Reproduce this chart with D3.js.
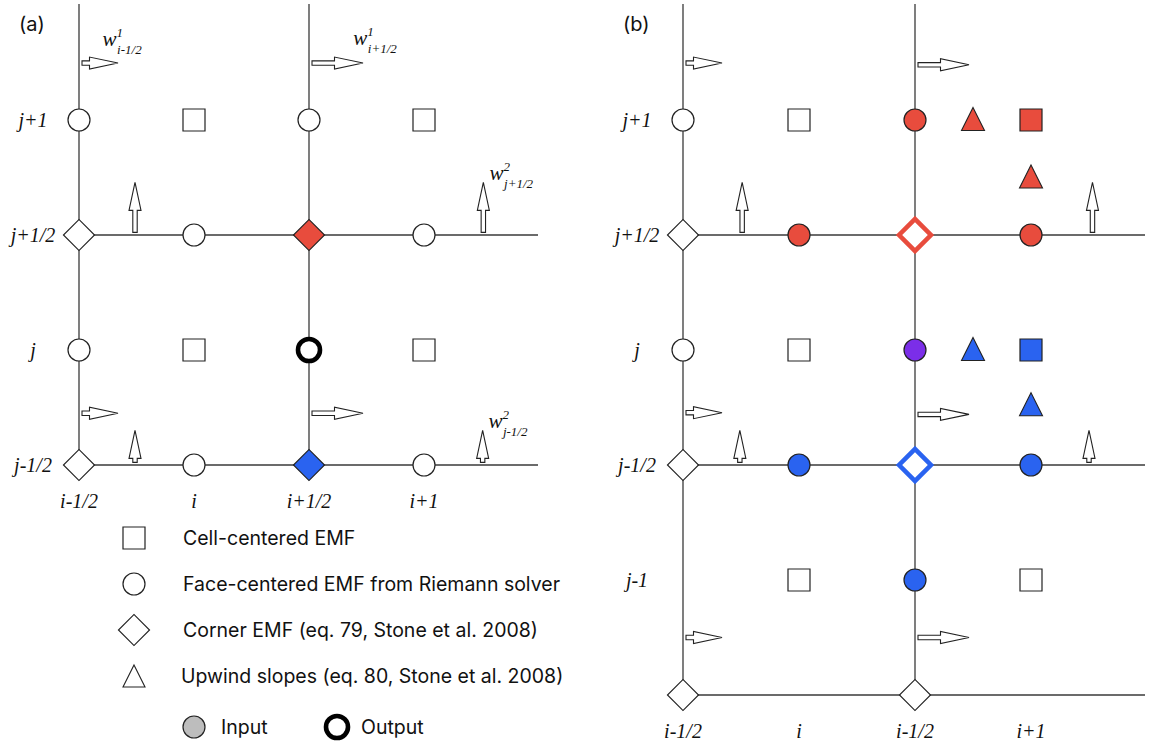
<!DOCTYPE html>
<html>
<head>
<meta charset="utf-8">
<script src="https://cdn.jsdelivr.net/npm/d3@7"></script>
<style>
  body { margin: 0; background: #fff; }
  .math { font-family: "Liberation Serif", "DejaVu Serif", serif; font-style: italic; fill: #111; }
  .sans { font-family: "Inter", "Liberation Sans", sans-serif; fill: #111; }
</style>
</head>
<body>
<svg id="fig" width="1151" height="749"></svg>
<script>
// Grid indices: columns 0..3 = i-1/2, i, i+1/2, i+1 ; rows 0..5 = j+1, j+1/2, j, j-1/2, j-1, j-3/2
const rowLabelsA = ["j+1", "j+1/2", "j", "j-1/2"];
const rowLabelsB = ["j+1", "j+1/2", "j", "j-1/2", "j-1"];
const colLabelsA = ["i-1/2", "i", "i+1/2", "i+1"];
const colLabelsB = ["i-1/2", "i", "i-1/2", "i+1"];

// Panel (a) markers: [column, row, colour]
const cellsA   = [[1, 0, "none"], [3, 0, "none"], [1, 2, "none"], [3, 2, "none"]];
const facesA   = [[0, 0, "none"], [2, 0, "none"], [1, 1, "none"], [3, 1, "none"],
                  [0, 2, "none"], [2, 2, "output"], [1, 3, "none"], [3, 3, "none"]];
const cornersA = [[0, 1, "none"], [2, 1, "red"], [0, 3, "none"], [2, 3, "blue"]];

// Panel (b) markers
const cellsB   = [[1, 0, "none"], [3, 0, "red"], [1, 2, "none"], [3, 2, "blue"], [1, 4, "none"], [3, 4, "none"]];
const facesB   = [[0, 0, "none"], [2, 0, "red"], [1, 1, "red"], [3, 1, "red"], [0, 2, "none"],
                  [2, 2, "purple"], [1, 3, "blue"], [3, 3, "blue"], [2, 4, "blue"]];
const cornersB = [[0, 1, "none"], [2, 1, "redRing"], [0, 3, "none"], [2, 3, "blueRing"], [0, 5, "none"], [2, 5, "none"]];
const slopesB  = [[2.5, 0, "red"], [3, 0.5, "red"], [2.5, 2, "blue"], [3, 2.48, "blue"]];

// Wave speeds drawn as arrows: [column, row, speed]
const speedsXA = [[0, -0.495, 0.36], [2, -0.495, 0.51], [0, 2.55, 0.36], [2, 2.55, 0.51]];
const speedsYA = [[0.487, 1, 0.50], [3.516, 1, 0.50], [0.487, 3, 0.32], [3.51, 3, 0.32]];
const speedsXB = [[0, -0.495, 0.36], [2, -0.48, 0.51], [0, 2.545, 0.36], [2, 2.56, 0.51], [0, 4.5, 0.36], [2, 4.5, 0.51]];
const speedsYB = [[0.51, 1, 0.50], [3.53, 1, 0.50], [0.49, 3, 0.32], [3.5, 3, 0.32]];

// Wave-speed labels w^sup_sub: [column, row, sup, sub]
const speedLabelsA = [[0.205, -0.643, "1", "i-1/2"], [2.385, -0.652, "1", "i+1/2"],
                      [3.57, 0.522, "2", "j+1/2"], [3.56, 2.675, "2", "j-1/2"]];

const legendItems = ["Cell-centered EMF", "Face-centered EMF from Riemann solver",
                     "Corner EMF (eq. 79, Stone et al. 2008)", "Upwind slopes (eq. 80, Stone et al. 2008)"];

const palette = {
  none: "#ffffff", red: "#e84c3d", blue: "#2a63f0", purple: "#7b2ee8",
  input: "#bdbdbd"
};
const ink = "#222";
const lineInk = "#3a3a3a";

const svg = d3.select("#fig");
const yScale = d3.scaleLinear().domain([0, 3]).range([120, 465]);
const lenScale = d3.scaleLinear().domain([0, 1]).range([0, 100]);

const sq = d3.symbol().type(d3.symbolSquare).size(484);
const circ = d3.symbol().type(d3.symbolCircle).size(Math.PI * 11 * 11);
const diam = d3.symbol().type(d3.symbolSquare).size(2 * 15.5 * 15.5);

function triPath(cx, cy, w, h) {
  return `M${cx},${cy - h / 2 - 1}L${cx + w / 2},${cy + h / 2 - 1}L${cx - w / 2},${cy + h / 2 - 1}Z`;
}

function arrowRight(x0, y0, len) {
  const head = 28.5, sh = 2.2, hh = 6;
  const s = Math.max(len - head, 2);
  return `M${x0},${y0 - sh}L${x0 + s},${y0 - sh}L${x0 + s},${y0 - hh}L${x0 + s + head},${y0}` +
         `L${x0 + s},${y0 + hh}L${x0 + s},${y0 + sh}L${x0},${y0 + sh}Z`;
}
function arrowUp(x0, y0, len) {
  const head = 28, sh = 2.2, hh = 6;
  const s = Math.max(len - head, 2);
  return `M${x0 - sh},${y0}L${x0 - sh},${y0 - s}L${x0 - hh},${y0 - s}L${x0},${y0 - s - head}` +
         `L${x0 + hh},${y0 - s}L${x0 + sh},${y0 - s}L${x0 + sh},${y0}Z`;
}

function drawPanel(opts) {
  const x = d3.scaleLinear().domain([0, 3]).range(opts.xRange);
  const g = svg.append("g");

  // grid lines
  opts.vCols.forEach(c => {
    g.append("line").attr("x1", x(c)).attr("x2", x(c)).attr("y1", 4).attr("y2", yScale(opts.lastRow))
      .attr("stroke", lineInk).attr("stroke-width", 1.3);
  });
  opts.hRows.forEach(r => {
    g.append("line").attr("x1", x(0)).attr("x2", opts.lineEnd).attr("y1", yScale(r)).attr("y2", yScale(r))
      .attr("stroke", lineInk).attr("stroke-width", 1.3);
  });

  // panel tag
  g.append("text").attr("class", "sans").attr("x", x(0) - 60).attr("y", 31)
    .attr("font-size", 20).text(opts.tag);

  // row and column labels
  opts.rowLabels.forEach((t, i) => {
    g.append("text").attr("class", "math").attr("x", x(0) - 46).attr("y", yScale(i) + 7)
      .attr("text-anchor", "middle").attr("font-size", 20).text(t);
  });
  opts.colLabels.forEach((t, i) => {
    g.append("text").attr("class", "math").attr("x", x(i)).attr("y", yScale(opts.lastRow) + 43)
      .attr("text-anchor", "middle").attr("font-size", 20).text(t);
  });

  // wave-speed arrows
  g.selectAll(".ax").data(opts.speedsX).join("path")
    .attr("d", d => arrowRight(x(d[0]) + 3, yScale(d[1]), lenScale(d[2])))
    .attr("fill", "#fff").attr("stroke", ink).attr("stroke-width", 1.1);
  g.selectAll(".ay").data(opts.speedsY).join("path")
    .attr("d", d => arrowUp(x(d[0]), yScale(d[1]) - 2.6, lenScale(d[2])))
    .attr("fill", "#fff").attr("stroke", ink).attr("stroke-width", 1.1);

  (opts.speedLabels || []).forEach(d => {
    const t = g.append("text").attr("class", "math").attr("x", x(d[0])).attr("y", yScale(d[1]));
    t.append("tspan").attr("font-size", 21).text("w");
    t.append("tspan").attr("font-size", 13).attr("dy", -9).text(d[2]);
    t.append("tspan").attr("font-size", 13).attr("dx", -6).attr("dy", 17).text(d[3]);
  });

  // cell-centred squares
  g.selectAll(".cell").data(opts.cells).join("path")
    .attr("transform", d => `translate(${x(d[0])},${yScale(d[1])})`)
    .attr("d", sq).attr("fill", d => palette[d[2]]).attr("stroke", ink).attr("stroke-width", 1.2);

  // face-centred circles
  g.selectAll(".face").data(opts.faces).join("path")
    .attr("transform", d => `translate(${x(d[0])},${yScale(d[1])})`)
    .attr("d", circ)
    .attr("fill", d => d[2] === "output" ? "#fff" : palette[d[2]])
    .attr("stroke", d => d[2] === "output" ? "#000" : ink)
    .attr("stroke-width", d => d[2] === "output" ? 4.6 : 1.2);

  // corner diamonds
  g.selectAll(".corner").data(opts.corners).join("path")
    .attr("transform", d => `translate(${x(d[0])},${yScale(d[1])}) rotate(45)`)
    .attr("d", d => d[2].endsWith("Ring") ? d3.symbol().type(d3.symbolSquare).size(2 * 16 * 16)() : diam())
    .attr("fill", d => d[2].endsWith("Ring") ? "#fff" : palette[d[2]])
    .attr("stroke", d => d[2].endsWith("Ring") ? palette[d[2].replace("Ring", "")] : ink)
    .attr("stroke-width", d => d[2].endsWith("Ring") ? 4.5 : 1.2);

  // upwind slope triangles
  g.selectAll(".slope").data(opts.slopes || []).join("path")
    .attr("d", d => triPath(x(d[0]), yScale(d[1]), 23, 23))
    .attr("fill", d => palette[d[2]]).attr("stroke", ink).attr("stroke-width", 1.1);
}

drawPanel({
  tag: "(a)", xRange: [79, 424], vCols: [0, 2], hRows: [1, 3], lastRow: 3, lineEnd: 538,
  rowLabels: rowLabelsA, colLabels: colLabelsA,
  cells: cellsA, faces: facesA, corners: cornersA,
  speedsX: speedsXA, speedsY: speedsYA, speedLabels: speedLabelsA
});

drawPanel({
  tag: "(b)", xRange: [683, 1031], vCols: [0, 2], hRows: [1, 3, 5], lastRow: 5, lineEnd: 1145,
  rowLabels: rowLabelsB, colLabels: colLabelsB,
  cells: cellsB, faces: facesB, corners: cornersB, slopes: slopesB,
  speedsX: speedsXB, speedsY: speedsYB
});

// legend
const leg = svg.append("g");
const legY = d3.scalePoint().domain(legendItems).range([538, 676]);
const legShapes = [
  () => sq(),
  () => circ(),
  () => diam()
];
legendItems.forEach((t, i) => {
  const cy = legY(t);
  if (i < 3) {
    leg.append("path").attr("transform", `translate(134,${cy})${i === 2 ? " rotate(45)" : ""}`)
      .attr("d", legShapes[i]()).attr("fill", "#fff").attr("stroke", ink).attr("stroke-width", 1.2);
  } else {
    leg.append("path").attr("d", triPath(134, cy + 1, 22, 22))
      .attr("fill", "#fff").attr("stroke", ink).attr("stroke-width", 1.1);
  }
  leg.append("text").attr("class", "sans").attr("x", i === 3 ? 181 : 183).attr("y", cy + 7)
    .attr("font-size", 19.5).text(t);
});

// input / output key
leg.append("path").attr("transform", "translate(194,727)").attr("d", circ())
  .attr("fill", palette.input).attr("stroke", ink).attr("stroke-width", 1.2);
leg.append("text").attr("class", "sans").attr("x", 221).attr("y", 734).attr("font-size", 19.5).text("Input");
leg.append("path").attr("transform", "translate(337,727)").attr("d", circ())
  .attr("fill", "#fff").attr("stroke", "#000").attr("stroke-width", 4.6);
leg.append("text").attr("class", "sans").attr("x", 361).attr("y", 734).attr("font-size", 19.5).text("Output");
</script>
</body>
</html>
